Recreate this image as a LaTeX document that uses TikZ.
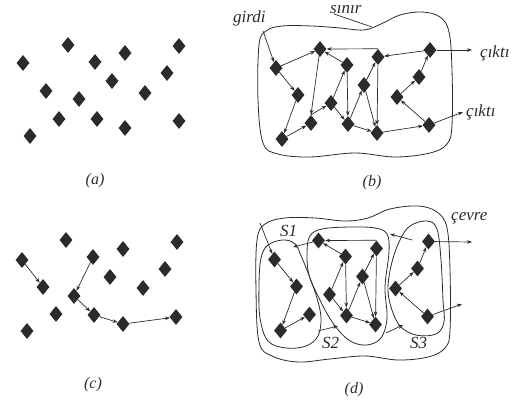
\documentclass[tikz,border=0pt]{standalone}
\usepackage{fontspec}
\setmainfont{Liberation Serif}
\usetikzlibrary{shapes.geometric,arrows.meta}
\definecolor{ink}{HTML}{2B2B2B}
\tikzset{
  dia/.style={diamond, fill=ink, draw=none, minimum width=13pt, minimum height=16pt, inner sep=0pt},
  con/.style={draw=ink, line width=0.7pt, -{Stealth[length=5pt,width=3.6pt]}},
  plain/.style={draw=ink, line width=0.7pt},
  bnd/.style={draw=ink, line width=0.8pt},
  lbl/.style={font=\itshape\fontsize{17}{20}\selectfont, inner sep=0pt, text=ink},
  paneltitle/.style={font=\itshape\fontsize{16}{19}\selectfont, inner sep=0pt, text=ink}
}
\newcommand\sysnodes[1]{%
  \node[dia] (#1A) at (276,68) {};
  \node[dia] (#1B) at (320,49) {};
  \node[dia] (#1C) at (347,65) {};
  \node[dia] (#1D) at (378,57) {};
  \node[dia] (#1E) at (430,50) {};
  \node[dia] (#1F) at (298,95) {};
  \node[dia] (#1G) at (364,85) {};
  \node[dia] (#1H) at (419,77) {};
  \node[dia] (#1I) at (331,103) {};
  \node[dia] (#1J) at (397,97) {};
  \node[dia] (#1K) at (311,123) {};
  \node[dia] (#1L) at (348,124) {};
  \node[dia] (#1M) at (282,139) {};
  \node[dia] (#1N) at (377,133) {};
  \node[dia] (#1O) at (429,125) {};
}
\begin{document}
\begin{tikzpicture}[x=1pt,y=-1pt]
\useasboundingbox (0,0) rectangle (519,403);

% ---------- (a)
\foreach \n/\p in {1/{23,63},2/{68,45},3/{95,62},4/{125,53},5/{179,46},6/{46,91},7/{112,81},8/{167,73},9/{79,99},10/{145,93},11/{59,119},12/{97,119},13/{30,136},14/{125,128},15/{179,121}}
  \node[dia] (a\n) at (\p) {};
\node[paneltitle] (labA) at (95,181) {(a)};

% ---------- (c)
\foreach \n/\p in {1/{22,260},2/{66,240},3/{93,257},4/{123,249},5/{177,242},6/{43,287},7/{110,277},8/{165,269},9/{74,296},10/{143,288},11/{56,314},12/{94,315},13/{27,331},14/{123,324},15/{176,317}}
  \node[dia] (c\n) at (\p) {};
\draw[con] (c1) -- (c6);
\draw[con] (c3) -- (c9);
\draw[con] (c9) -- (c12);
\draw[con] (c12) -- (c14);
\draw[con] (c14) -- (c15);
\node[paneltitle] (labC) at (93,385) {(c)};

% ---------- (b)
\draw[bnd] plot[smooth cycle, tension=0.6] coordinates {
  (259,45) (266,31) (282,26) (312,26) (340,28) (364,30) (381,24) (400,15) (422,12) (440,17)
  (449,32) (452,70) (452,125) (447,144) (430,153) (395,157) (355,153) (310,157) (278,154)
  (263,143) (258,100)};
\sysnodes{b}
\coordinate (bin) at (263,31);
\coordinate (bout1) at (472,50);
\coordinate (bout2) at (463,112);
\coordinate (sinA) at (334,14);
\coordinate (sinB) at (372,27);
\draw[plain] (sinA) -- (sinB);
\draw[con] (bin) -- (bA);
\draw[con] (bA) -- (bB);
\draw[con] (bA) -- (bF);
\draw[con] (bF) -- (bM);
\draw[con] (bM) -- (bK);
\draw[con] (bB) -- (bK.north);
\draw[con] (bK.north) -- (bI);
\draw[con] (bC) -- (bB);
\draw[con] (bD.north) -- (bB);
\draw[con] (bI) -- (bC);
\draw[con] (bC) -- (bL);
\draw[con] (bI) -- (bL);
\draw[con] (bL) -- (bG);
\draw[con] (bG) -- (bD);
\draw[con] (bG) -- (bN);
\draw[con] (bD) -- (bN);
\draw[con] (bL) -- (bN);
\draw[con] (bN) -- (bO);
\draw[con] (bO) -- (bJ);
\draw[con] (bJ) -- (bH);
\draw[con] (bH) -- (bE);
\draw[con] (bE) -- (bD);
\draw[con] (bE) -- (bout1);
\draw[con] (bO) -- (bout2);
\node[lbl, anchor=base west] (tgirdi) at (233,23) {girdi};
\node[lbl, anchor=base west] (tsinir) at (330,14) {sınır};
\node[lbl, anchor=base west] (tcikti1) at (480,58) {çıktı};
\node[lbl, anchor=base west] (tcikti2) at (466,117) {çıktı};
\node[paneltitle] (labB) at (372,183) {(b)};

% ---------- (d)
\draw[bnd] plot[smooth cycle, tension=0.6] coordinates {
  (257,240) (265,224) (285,218) (315,218) (345,221) (368,218) (390,209) (418,206) (437,212)
  (447,228) (450,270) (450,330) (445,348) (428,357) (398,360) (365,356) (330,359) (298,362)
  (272,356) (259,342) (256,290)};
% S1
\draw[bnd] plot[smooth cycle, tension=0.6] coordinates {
  (261,258) (268,245) (283,240) (295,244) (302,258) (310,278) (317,298) (321,318) (318,336)
  (306,346) (286,348) (268,341) (260,318) (259,285)};
% S2
\draw[bnd] plot[smooth cycle, tension=0.6] coordinates {
  (307,252) (310,236) (322,229) (350,227) (375,228) (387,234) (389,252) (385,287) (387,318)
  (381,338) (367,345) (352,342) (340,332) (329,317) (319,298) (309,275)};
% S3
\draw[bnd] plot[smooth cycle, tension=0.6] coordinates {
  (400,240) (410,226) (427,221) (437,229) (441,260) (443,300) (444,322) (436,334) (416,335)
  (400,326) (391,307) (388,287) (392,262)};
\begin{scope}[shift={(-1.5,191.5)}]
  \sysnodes{d}
\end{scope}
\coordinate (din) at (260,223);
\coordinate (dout1) at (472,242);
\coordinate (dout2) at (462,304);
\coordinate (x21s) at (313,242);
\coordinate (x21e) at (293,247);
\coordinate (x12s) at (318,331);
\coordinate (x12e) at (338,326);
\coordinate (x23s) at (386,333);
\coordinate (x23e) at (403,325);
\coordinate (x32s) at (412,240);
\coordinate (x32e) at (390,234);
\draw[con] (din) -- (dA);
\draw[con] (dA) -- (dF);
\draw[con] (dF) -- (dM);
\draw[con] (dM) -- (dK);
\draw[con] (dC) -- (dB);
\draw[con] (dD.north) -- (dB);
\draw[con] (dI) -- (dC);
\draw[con] (dC) -- (dL);
\draw[con] (dI) -- (dL);
\draw[con] (dL) -- (dG);
\draw[con] (dG) -- (dD);
\draw[con] (dG) -- (dN);
\draw[con] (dD) -- (dN);
\draw[con] (dL) -- (dN);
\draw[con] (dO) -- (dJ);
\draw[con] (dJ) -- (dH);
\draw[con] (dH) -- (dE);
\draw[con] (dE) -- (dout1);
\draw[con] (dO) -- (dout2);
\draw[con] (x21s) -- (x21e);
\draw[con] (x12s) -- (x12e);
\draw[con] (x23s) -- (x23e);
\draw[con] (x32s) -- (x32e);
\node[lbl, anchor=base west] (tS1) at (280,237) {S1};
\node[lbl, anchor=base west] (tS2) at (322,348) {S2};
\node[lbl, anchor=base west] (tS3) at (410,348) {S3};
\node[lbl, anchor=base west] (tcevre) at (451,221) {çevre};
\node[paneltitle] (labD) at (354,390) {(d)};
\end{tikzpicture}
\end{document}
